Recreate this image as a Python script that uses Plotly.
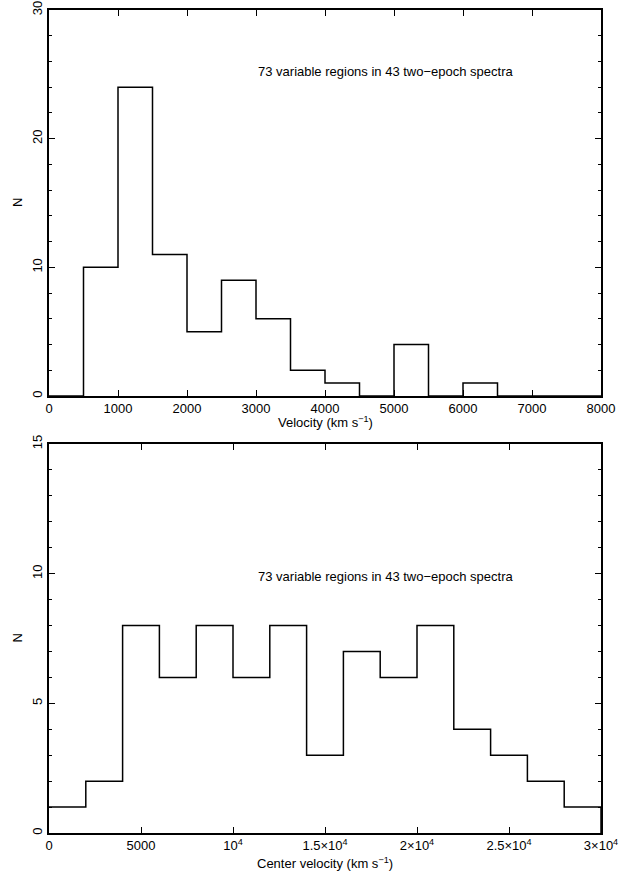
import plotly.graph_objects as go
from plotly.subplots import make_subplots

# ---- data ----
vel_edges = [0, 500, 1000, 1500, 2000, 2500, 3000, 3500, 4000, 4500, 5000,
             5500, 6000, 6500, 7000, 7500, 8000]
vel_counts = [0, 10, 24, 11, 5, 9, 6, 2, 1, 0, 4, 0, 1, 0, 0, 0]

cen_edges = [0, 2000, 4000, 6000, 8000, 10000, 12000, 14000, 16000, 18000,
             20000, 22000, 24000, 26000, 28000, 30000]
cen_counts = [1, 2, 8, 6, 8, 6, 8, 3, 7, 6, 8, 4, 3, 2, 1]

top_xticks = [0, 1000, 2000, 3000, 4000, 5000, 6000, 7000, 8000]
top_yticks = [0, 10, 20, 30]
bot_xticks = [0, 5000, 10000, 15000, 20000, 25000, 30000]
bot_xticklabels = ["0", "5000", "10<sup>4</sup>", "1.5×10<sup>4</sup>",
                   "2×10<sup>4</sup>", "2.5×10<sup>4</sup>", "3×10<sup>4</sup>"]
bot_yticks = [0, 5, 10, 15]
note = "73 variable regions in 43 two\u2212epoch spectra"

FONT = "Liberation Sans"

fig = make_subplots(rows=2, cols=1, vertical_spacing=0.0)

# step histograms
fig.add_trace(go.Scatter(x=vel_edges, y=vel_counts + [0], mode="lines",
                         line=dict(shape="hv", color="black", width=1.5),
                         showlegend=False, hoverinfo="skip"), row=1, col=1)
fig.add_trace(go.Scatter(x=cen_edges, y=cen_counts + [0], mode="lines",
                         line=dict(shape="hv", color="black", width=1.5),
                         showlegend=False, hoverinfo="skip"), row=2, col=1)

axis_common = dict(showline=True, linecolor="black", linewidth=1.5,
                   mirror="ticks", ticks="inside", tickcolor="black",
                   tickwidth=1.2, ticklen=6, showgrid=False, zeroline=False,
                   automargin=False,
                   tickfont=dict(family=FONT, size=13, color="black"))

fig.update_xaxes(**axis_common)
fig.update_yaxes(**axis_common)

fig.update_layout(
    xaxis=dict(range=[0, 8000], tickvals=top_xticks, domain=[0, 1]),
    yaxis=dict(range=[0, 30], tickvals=top_yticks, tickangle=-90,
               domain=[0.531, 1.0],
               minor=dict(ticks="inside", dtick=2, ticklen=3,
                          tickcolor="black", tickwidth=1.2)),
    xaxis2=dict(range=[0, 30000], tickvals=bot_xticks,
                ticktext=bot_xticklabels, domain=[0, 1]),
    yaxis2=dict(range=[0, 15], tickvals=bot_yticks, tickangle=-90,
                domain=[0.0, 0.4727],
                minor=dict(ticks="inside", dtick=1, ticklen=3,
                           tickcolor="black", tickwidth=1.2)),
)

ann_font = dict(family=FONT, size=13, color="black")
fig.update_layout(
    width=629, height=880,
    margin=dict(l=49, r=28, t=10, b=47),
    plot_bgcolor="white", paper_bgcolor="white",
    annotations=[
        dict(text=note, x=3000, y=25.2, xref="x", yref="y", xanchor="left",
             yanchor="middle", showarrow=False, font=ann_font),
        dict(text=note, x=11250, y=9.9, xref="x2", yref="y2", xanchor="left",
             yanchor="middle", showarrow=False, font=ann_font),
        dict(text="Velocity (km s<sup>\u22121</sup>)", x=0.5, y=0.531,
             xref="paper", yref="paper", yshift=-26, xanchor="center",
             yanchor="middle", showarrow=False, font=ann_font),
        dict(text="Center velocity (km s<sup>\u22121</sup>)", x=0.5, y=0.0,
             xref="paper", yref="paper", yshift=-30, xanchor="center",
             yanchor="middle", showarrow=False, font=ann_font),
        dict(text="N", x=0, y=0.7655, xref="paper", yref="paper",
             xshift=-31, textangle=-90, xanchor="center", yanchor="middle",
             showarrow=False, font=ann_font),
        dict(text="N", x=0, y=0.2363, xref="paper", yref="paper",
             xshift=-31, textangle=-90, xanchor="center", yanchor="middle",
             showarrow=False, font=ann_font),
    ],
)

fig.write_html("out.html", config={"displayModeBar": False},
               post_script="document.body.style.margin='0';"
                           "document.body.style.padding='0';")
